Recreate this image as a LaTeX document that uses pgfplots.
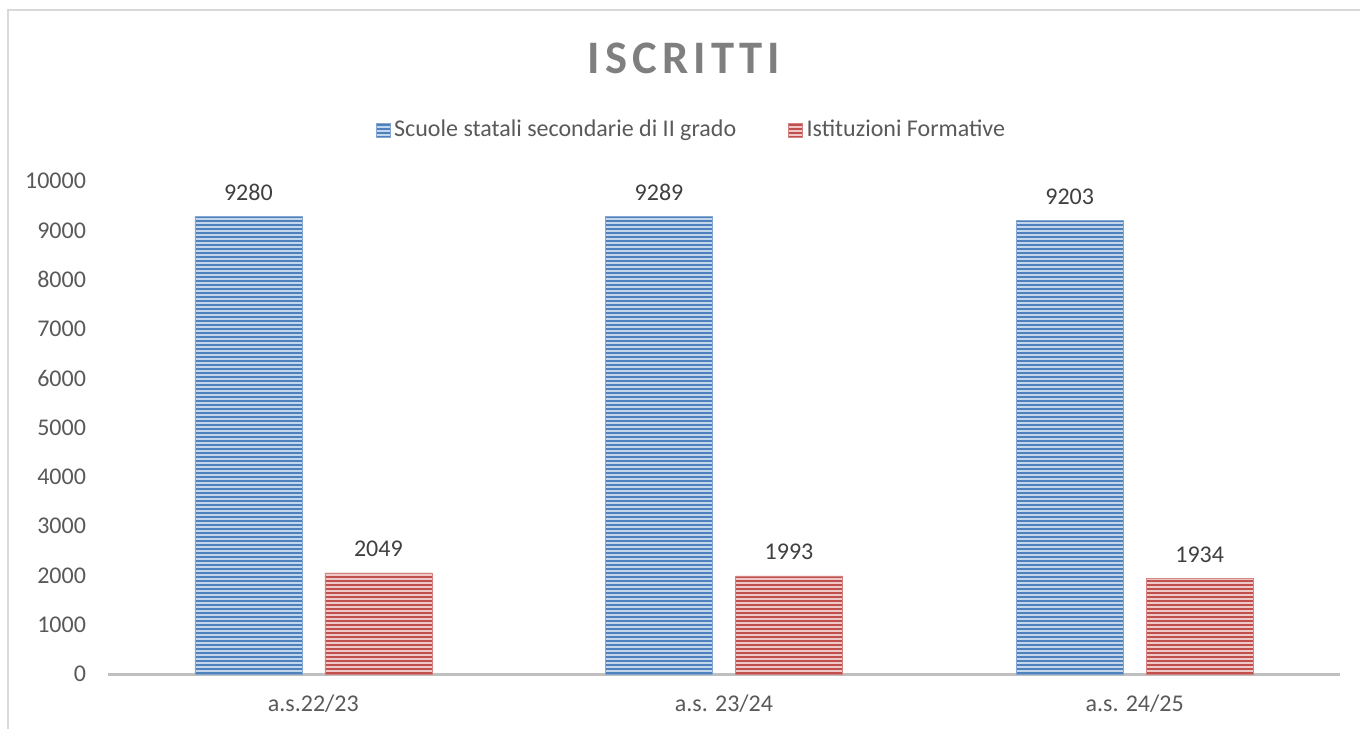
\documentclass[border=0pt]{standalone}
\usepackage{pgfplots}
\pgfplotsset{compat=1.18}
\usetikzlibrary{patterns.meta}
\usepackage{fontspec}
\setmainfont{Carlito}
\definecolor{bluedark}{RGB}{79,129,189}
\definecolor{bluelight}{RGB}{196,214,236}
\definecolor{reddark}{RGB}{192,80,77}
\definecolor{redlight}{RGB}{240,200,199}
\definecolor{txtgray}{RGB}{89,89,89}
\definecolor{lblgray}{RGB}{64,64,64}
\definecolor{titlegray}{RGB}{127,127,127}
\begin{document}
\begin{tikzpicture}
\path[use as bounding box] (0,0) rectangle (680pt,364.5pt);
\draw[color={rgb,255:red,217;green,217;blue,217}, line width=0.6pt] (4pt,0) -- (4pt,359.5pt) -- (680pt,359.5pt);
\node[font=\fontsize{23.3}{28}\selectfont\bfseries\addfontfeature{LetterSpace=11}, text=titlegray] at (342pt,335.5pt) {ISCRITTI};
\begin{axis}[
  at={(54pt,27.5pt)}, anchor=south west,
  scale only axis, width=616pt, height=246.5pt,
  ymin=0, ymax=10000, xmin=-0.5, xmax=2.5,
  ybar=11.5pt, bar width=53.5pt,
  xtick={0,1,2}, xticklabels={a.s.22/23, a.s. 23/24, a.s. 24/25},
  ytick={0,1000,...,10000},
  scaled y ticks=false,
  axis lines*=left,
  y axis line style={draw=none},
  x axis line style={draw={rgb,255:red,191;green,191;blue,191}, line width=1.5pt},
  major tick length=0pt,
  tick label style={font=\fontsize{12}{14}\selectfont, text=txtgray},
  yticklabel style={xshift=-7.5pt},
  xticklabel style={yshift=-7pt},
  /pgf/number format/assume math mode=true,
  /pgf/number format/1000 sep={},
  nodes near coords,
  every node near coord/.append style={font=\fontsize{12}{14}\selectfont, text=lblgray, anchor=south, yshift=4.5pt},
  legend style={at={(0.4744,1.1034)}, anchor=center, draw=none, fill=none,
    legend columns=2, font=\fontsize{12}{14}\selectfont, text=txtgray,
    /tikz/every even column/.append style={column sep=24pt},
    inner sep=0pt},
  legend cell align=left,
  legend image code/.code={\path[#1, draw=none] (0pt,-3.5pt) rectangle (7pt,3.5pt);},
  clip=false,
]
\addplot[draw=bluedark!70, line width=0.2pt, fill=bluelight, postaction={pattern={Lines[angle=0,distance=2pt,line width=1pt]}, pattern color=bluedark}] coordinates {(0,9280) (1,9289) (2,9203)};
\addplot[draw=reddark!70, line width=0.2pt, fill=redlight, postaction={pattern={Lines[angle=0,distance=2pt,line width=1pt]}, pattern color=reddark}] coordinates {(0,2049) (1,1993) (2,1934)};
\legend{Scuole statali secondarie di II grado, Istituzioni Formative}
\end{axis}
\end{tikzpicture}
\end{document}
